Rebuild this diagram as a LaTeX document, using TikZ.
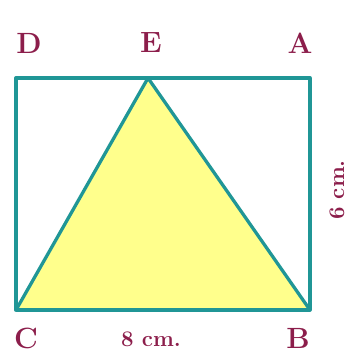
\documentclass[tikz,border=0pt]{standalone}
\usepackage{tikz}
\usetikzlibrary{positioning, calc}
\definecolor{edgeteal}{RGB}{32,150,150}
\definecolor{lblred}{RGB}{140,30,75}
\definecolor{fillyel}{RGB}{255,255,140}

\begin{document}
\begin{tikzpicture}[
  x=0.03cm, y=-0.03cm,
  edge/.style={draw=edgeteal, line width=2.8pt, line join=round},
  vlbl/.style={text=lblred, font=\fontsize{25}{25}\selectfont\bfseries},
  dlbl/.style={text=lblred, font=\fontsize{19}{19}\selectfont\bfseries, inner sep=1pt}
]
\useasboundingbox (0,0) rectangle (350,352);
\coordinate (D) at (16,78);
\coordinate (A) at (310,78);
\coordinate (B) at (310,310);
\coordinate (C) at (16,310);
\coordinate (E) at (148,78);

\fill[fillyel] (C) -- (E) -- (B) -- cycle;
\draw[edge] (D) rectangle (B);
\draw[edge] (C) -- (E) -- (B);

\node[vlbl] (lD) at (29,43) {D};
\node[vlbl] (lE) at (151,43) {E};
\node[vlbl] (lA) at (300,43) {A};
\node[vlbl] (lC) at (26,338) {C};
\node[vlbl] (lB) at (298,338) {B};
\node[dlbl] (w) at (151,339) {8 cm.};
\node[dlbl, rotate=90] (h) at (337,190) {6 cm.};
\end{tikzpicture}
\end{document}
